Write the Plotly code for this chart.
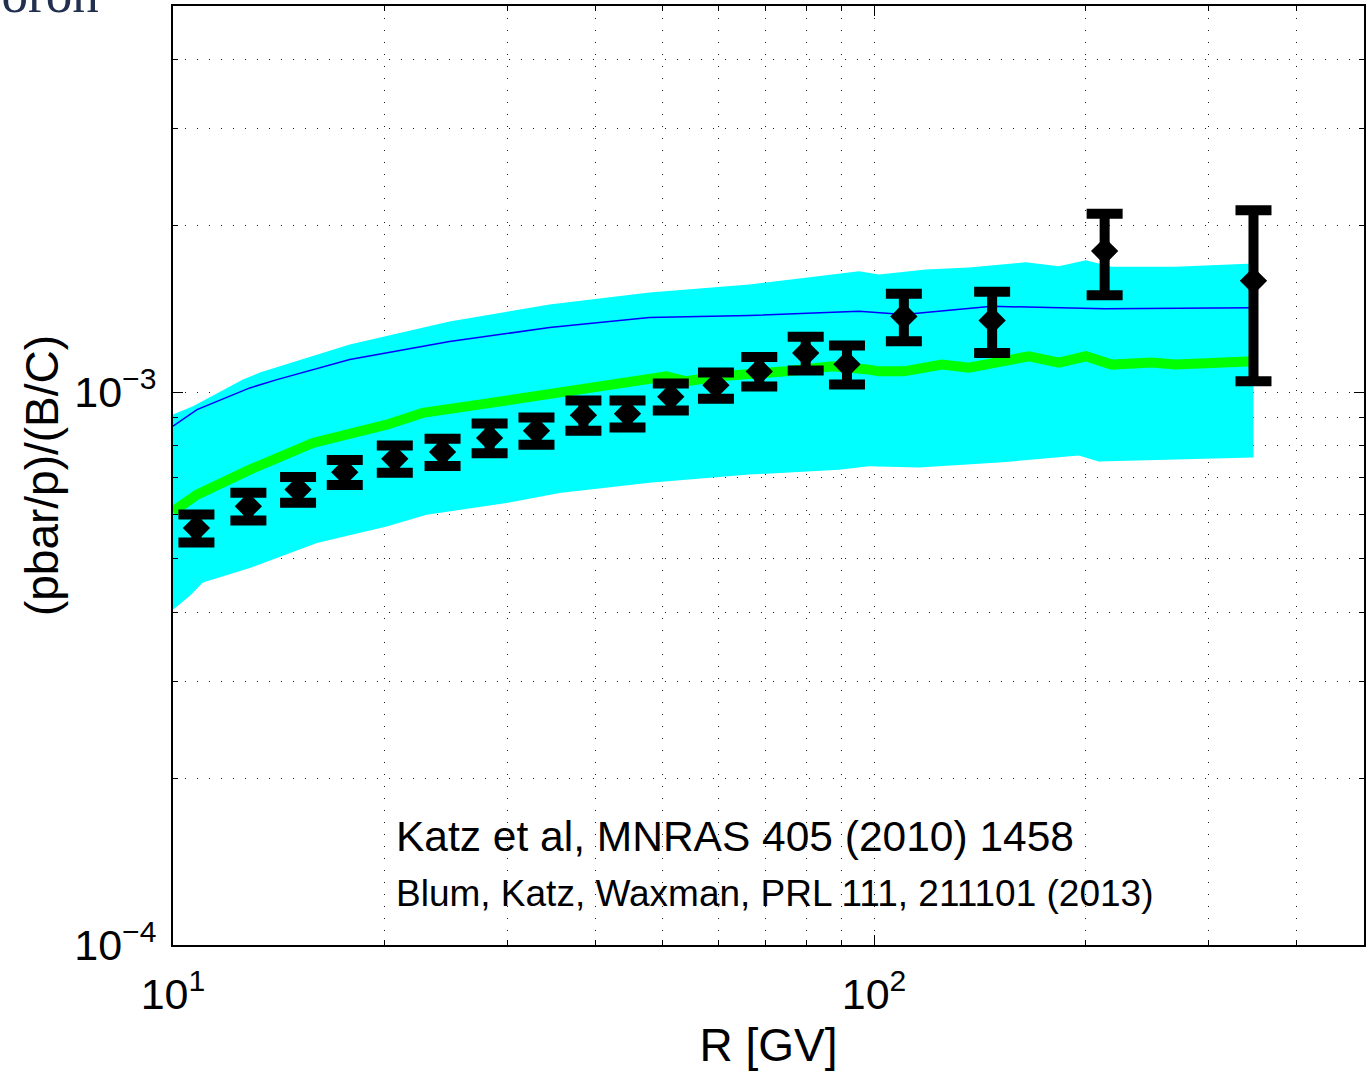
import plotly.graph_objects as go
import numpy as np

# ---------------- data ----------------
# measured points: rigidity R [GV], ratio (units of 1e-3), symmetric error (1e-3)
data_R = [10.80, 12.81, 15.08, 17.58, 20.72, 24.24, 28.29, 33.0, 38.5, 44.5,
          51.3, 59.5, 68.6, 79.9, 91.5, 110.3, 147.4, 213.3, 347.8]
data_val = [0.568, 0.622, 0.667, 0.717, 0.758, 0.780, 0.827, 0.852, 0.909, 0.915,
            0.982, 1.030, 1.091, 1.178, 1.124, 1.372, 1.349, 1.801, 1.591]
data_err = [0.033, 0.036, 0.036, 0.037, 0.043, 0.044, 0.051, 0.048, 0.057, 0.051,
            0.055, 0.056, 0.067, 0.083, 0.091, 0.135, 0.171, 0.303, 0.544]

# green model curve
green_R = [10.0, 10.82, 12.87, 15.83, 20.17, 22.71, 28.57, 35.59, 43.33, 50.56,
           53.97, 60.14, 74.93, 87.13, 98.37, 101.65, 110.3, 125.0, 136.6, 150.7,
           166.3, 183.5, 200.5, 218.3, 248.9, 269.2, 347.8]
green_val = [0.6088, 0.6528, 0.7246, 0.8097, 0.8740, 0.9178, 0.9580, 0.9975, 1.0400, 1.0690,
             1.0469, 1.0690, 1.0914, 1.1145, 1.0992, 1.0914, 1.0914, 1.1224, 1.1084, 1.1379,
             1.1620, 1.1318, 1.1620, 1.1224, 1.1318, 1.1224, 1.1379]

# thin blue curve
blue_R = [10.0, 10.82, 12.87, 14.07, 17.87, 24.80, 34.44, 47.81, 66.37, 95.20,
          110.3, 147.3, 213.3, 347.8]
blue_val = [0.8685, 0.9304, 1.0185, 1.0544, 1.1462, 1.2355, 1.3096, 1.3654, 1.3768, 1.4018,
            1.3826, 1.4311, 1.4158, 1.4217]

# cyan band: upper and lower edges
upper_R = [10.0, 10.68, 12.58, 13.30, 17.87, 24.80, 34.44, 47.81, 66.37, 95.20,
           101.65, 118.6, 136.6, 164.6, 183.5, 200.5, 218.3, 269.2, 347.8]
upper_val = [0.9113, 0.9433, 1.0544, 1.0856, 1.2200, 1.3428, 1.4413, 1.5155, 1.5668, 1.6561,
             1.6335, 1.6678, 1.6818, 1.7193, 1.6910, 1.7338, 1.6867, 1.6867, 1.7101]
lower_R = [10.0, 10.6, 11.03, 12.87, 16.04, 20.17, 23.00, 29.91, 35.59, 47.81, 66.37,
           89.15, 98.37, 115.9, 150.7, 195.9, 209.2, 347.8]
lower_val = [0.4043, 0.4300, 0.4530, 0.4808, 0.5337, 0.5719, 0.6005, 0.6304, 0.6574, 0.6863, 0.7097,
             0.7246, 0.7347, 0.7307, 0.7461, 0.7683, 0.7492, 0.7619]

SCALE = 1e-3

x_major = [10, 100]
x_major_text = ["10<sup>1</sup>", "10<sup>2</sup>"]
x_minor = [20, 30, 40, 50, 60, 70, 80, 90, 200, 300, 400]
y_major = [1e-4, 1e-3]
y_major_text = ["10<sup>−4</sup>", "10<sup>−3</sup>"]
y_minor = [2e-4, 3e-4, 4e-4, 5e-4, 6e-4, 7e-4, 8e-4, 9e-4, 2e-3, 3e-3, 4e-3]

x_title = "R [GV]"
y_title = "(pbar/p)/(B/C)"
ref1 = "Katz et al, MNRAS 405 (2010) 1458"
ref2 = "Blum, Katz, Waxman, PRL 111, 211101 (2013)"

FONT = "Liberation Sans, Arial, Helvetica, sans-serif"

# ---------------- figure ----------------
fig = go.Figure()

band_x = upper_R + lower_R[::-1]
band_y = [v * SCALE for v in upper_val] + [v * SCALE for v in lower_val[::-1]]
fig.add_trace(go.Scatter(x=band_x, y=band_y, fill="toself", fillcolor="#00FFFF",
                         mode="lines", line=dict(width=0, color="#00FFFF"),
                         hoverinfo="skip", showlegend=False))

fig.add_trace(go.Scatter(x=blue_R, y=[v * SCALE for v in blue_val], mode="lines",
                         line=dict(color="#0000FF", width=1.5), showlegend=False))

fig.add_trace(go.Scatter(x=green_R, y=[v * SCALE for v in green_val], mode="lines",
                         line=dict(color="#00FF00", width=10), showlegend=False))

fig.add_trace(go.Scatter(x=data_R, y=[v * SCALE for v in data_val], mode="markers",
                         marker=dict(symbol="diamond", size=21, color="black"),
                         error_y=dict(type="data", array=[e * SCALE for e in data_err],
                                      visible=True, color="black", thickness=10, width=18),
                         showlegend=False))

axis_common = dict(
    showline=True, linecolor="black", linewidth=2, mirror="ticks",
    ticks="inside", ticklen=10, tickwidth=1.2, tickcolor="black",
    showgrid=True, gridcolor="rgba(0,0,0,0.9)", gridwidth=1, griddash="1px,11px",
    zeroline=False,
    tickfont=dict(family=FONT, size=43, color="black"),
)

fig.update_xaxes(
    type="log", range=[1, np.log10(500)],
    tickmode="array", tickvals=x_major, ticktext=x_major_text,
    minor=dict(tickmode="array", tickvals=x_minor, ticks="inside", ticklen=5,
               tickcolor="black", tickwidth=1, showgrid=True,
               gridcolor="rgba(0,0,0,0.9)", gridwidth=1, griddash="1px,11px"),
    title=dict(text=x_title, font=dict(family=FONT, size=46, color="black"), standoff=12),
    ticklabelstandoff=10,
    **axis_common,
)
fig.update_yaxes(
    type="log", range=[-4, np.log10(5e-3)],
    tickmode="array", tickvals=y_major, ticktext=y_major_text,
    minor=dict(tickmode="array", tickvals=y_minor, ticks="inside", ticklen=5,
               tickcolor="black", tickwidth=1, showgrid=True,
               gridcolor="rgba(0,0,0,0.9)", gridwidth=1, griddash="1px,11px"),
    title=dict(text=y_title, font=dict(family=FONT, size=46, color="black"), standoff=1),
    ticklabelstandoff=6,
    **axis_common,
)

L, R_, T, B = 173, 7, 6, 126
W, H = 1371, 1071
pw, ph = W - L - R_, H - T - B

fig.add_annotation(text=ref1, xref="paper", yref="paper",
                   x=(394 - L) / pw, y=(H - B - 836) / ph, xanchor="left", yanchor="middle",
                   showarrow=False, font=dict(family=FONT, size=42.5, color="black"))
fig.add_annotation(text=ref2, xref="paper", yref="paper",
                   x=(394 - L) / pw, y=(H - B - 893) / ph, xanchor="left", yanchor="middle",
                   showarrow=False, font=dict(family=FONT, size=37, color="black"))
# cropped page text in the top-left corner
fig.add_annotation(text="boron", xref="paper", yref="paper",
                   x=(-27 - L) / pw, y=(H - B - 25) / ph, xanchor="left", yanchor="bottom",
                   showarrow=False,
                   font=dict(family="Liberation Serif, Times New Roman, serif", size=53,
                             color="#22304f"))

fig.update_layout(
    width=W, height=H,
    margin=dict(l=L, r=R_, t=T, b=B, autoexpand=False),
    paper_bgcolor="white", plot_bgcolor="white",
    showlegend=False,
)

fig.write_html("out.html")
